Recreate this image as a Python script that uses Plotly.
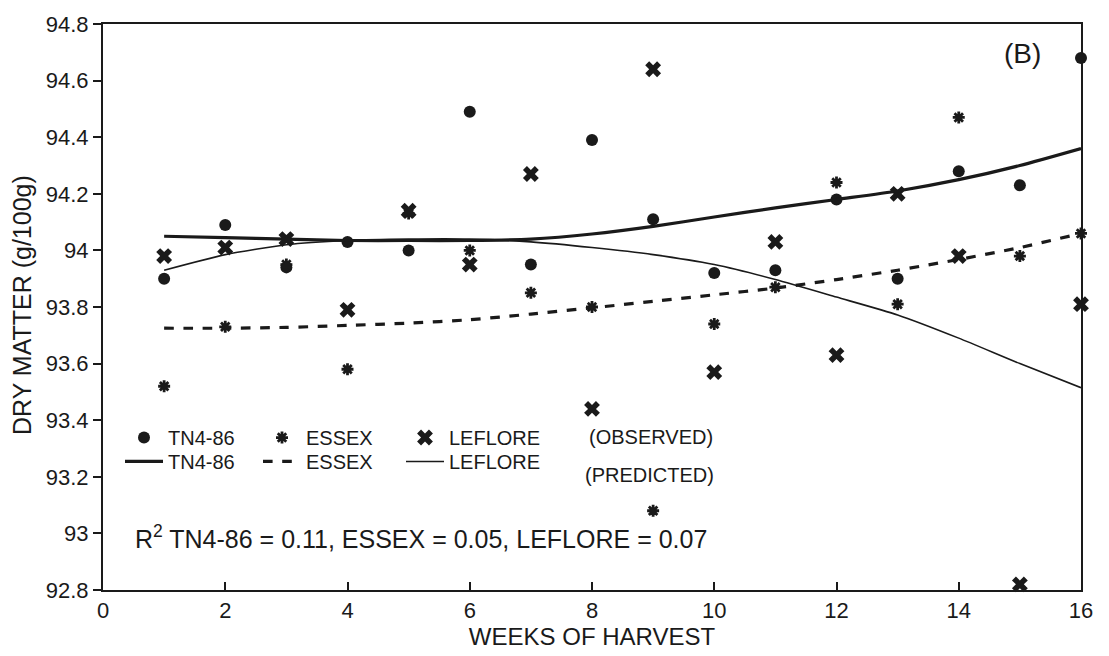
import plotly.graph_objects as go

weeks = list(range(1, 17))

tn4_obs = [93.90, 94.09, 93.94, 94.03, 94.00, 94.49, 93.95, 94.39,
           94.11, 93.92, 93.93, 94.18, 93.90, 94.28, 94.23, 94.68]
essex_obs = [93.52, 93.73, 93.95, 93.58, 94.13, 94.00, 93.85, 93.80,
             93.08, 93.74, 93.87, 94.24, 93.81, 94.47, 93.98, 94.06]
leflore_obs = [93.98, 94.01, 94.04, 93.79, 94.14, 93.95, 94.27, 93.44,
               94.64, 93.57, 94.03, 93.63, 94.20, 93.98, 92.82, 93.81]

tn4_pred = [94.05, 94.045, 94.04, 94.035, 94.035, 94.035, 94.04, 94.058,
            94.085, 94.118, 94.15, 94.18, 94.21, 94.25, 94.30, 94.36]
essex_pred = [93.725, 93.725, 93.728, 93.735, 93.743, 93.755, 93.775, 93.797,
              93.82, 93.843, 93.867, 93.897, 93.93, 93.968, 94.01, 94.06]
leflore_pred = [93.93, 93.985, 94.02, 94.035, 94.04, 94.04, 94.03, 94.01,
                93.985, 93.95, 93.897, 93.835, 93.772, 93.69, 93.60, 93.515]

x_tick_vals = [0, 2, 4, 6, 8, 10, 12, 14, 16]
y_tick_vals = [92.8, 93.0, 93.2, 93.4, 93.6, 93.8, 94.0, 94.2, 94.4, 94.6, 94.8]
y_tick_text = ["92.8", "93", "93.2", "93.4", "93.6", "93.8", "94", "94.2", "94.4", "94.6", "94.8"]

FONT = "Liberation Sans, Arial, sans-serif"
INK = "#1a1a1a"

L, R, T, B = 103, 28, 22, 66
W, H = 1109, 656
pw, ph = W - L - R, H - T - B

def px(xp):
    return (xp - L) / pw

def py(yp):
    return (H - B - yp) / ph

fig = go.Figure()

# observed
fig.add_trace(go.Scatter(x=weeks, y=tn4_obs, mode="markers", name="TN4-86", legend="legend",
                         marker=dict(symbol="circle", size=12, color=INK), cliponaxis=False))
fig.add_trace(go.Scatter(x=weeks, y=essex_obs, mode="markers", name="ESSEX", legend="legend2",
                         marker=dict(symbol="asterisk-open", size=10, color=INK,
                                     line=dict(width=2.8, color=INK)),
                         cliponaxis=False))
fig.add_trace(go.Scatter(x=weeks, y=leflore_obs, mode="markers", name="LEFLORE", legend="legend3",
                         marker=dict(symbol="x", size=14, color=INK), cliponaxis=False))
# predicted
fig.add_trace(go.Scatter(x=weeks, y=tn4_pred, mode="lines", name="TN4-86", legend="legend4",
                         line=dict(color=INK, width=3.2, shape="spline", smoothing=0.6)))
fig.add_trace(go.Scatter(x=weeks, y=essex_pred, mode="lines", name="ESSEX", legend="legend5",
                         line=dict(color=INK, width=3.2, dash="dash", shape="spline", smoothing=0.6)))
fig.add_trace(go.Scatter(x=weeks, y=leflore_pred, mode="lines", name="LEFLORE", legend="legend6",
                         line=dict(color=INK, width=1.6, shape="spline", smoothing=0.6)))

leg_common = dict(yanchor="middle", xanchor="left", bgcolor="rgba(0,0,0,0)",
                  font=dict(family=FONT, size=20, color=INK), tracegroupgap=0,
                  traceorder="normal", itemwidth=38)

col_x = [120, 258, 401]
row_y = [437, 461]

fig.update_layout(
    width=W, height=H,
    margin=dict(l=L, r=R, t=T, b=B),
    plot_bgcolor="white", paper_bgcolor="white",
    font=dict(family=FONT, color=INK),
    showlegend=True,
    legend=dict(x=px(col_x[0]), y=py(row_y[0]), **leg_common),
    legend2=dict(x=px(col_x[1]), y=py(row_y[0]), **leg_common),
    legend3=dict(x=px(col_x[2]), y=py(row_y[0]), **leg_common),
    legend4=dict(x=px(col_x[0]), y=py(row_y[1]), **leg_common),
    legend5=dict(x=px(col_x[1]), y=py(row_y[1]), **leg_common),
    legend6=dict(x=px(col_x[2]), y=py(row_y[1]), **leg_common),
    xaxis=dict(range=[0, 16], tickvals=x_tick_vals, ticks="inside", ticklen=8, tickwidth=2,
               tickcolor=INK, showline=True, linecolor=INK, linewidth=2, mirror=True,
               showgrid=False, zeroline=False, tickfont=dict(family=FONT, size=22, color=INK),
               title=dict(text="WEEKS OF HARVEST", font=dict(family=FONT, size=24, color=INK), standoff=2)),
    yaxis=dict(range=[92.8, 94.8], tickvals=y_tick_vals, ticktext=y_tick_text, ticks="outside",
               ticklen=8, tickwidth=2, tickcolor=INK, showline=True, linecolor=INK, linewidth=2,
               mirror=True, showgrid=False, zeroline=False,
               tickfont=dict(family=FONT, size=22, color=INK)),
)

fig.add_annotation(text="DRY MATTER (g/100g)", x=(22 - L) / pw, y=py(304), xref="paper", yref="paper",
                   xanchor="center", yanchor="middle",
                   showarrow=False, textangle=-90, font=dict(family=FONT, size=25, color=INK))
fig.add_annotation(text="(OBSERVED)", x=px(587), y=py(436), xref="paper", yref="paper",
                   xanchor="left", yanchor="middle", showarrow=False,
                   font=dict(family=FONT, size=20, color=INK))
fig.add_annotation(text="(PREDICTED)", x=px(583), y=py(475), xref="paper", yref="paper",
                   xanchor="left", yanchor="middle", showarrow=False,
                   font=dict(family=FONT, size=20, color=INK))
fig.add_annotation(text="R<sup>2</sup> TN4-86 = 0.11, ESSEX = 0.05, LEFLORE = 0.07",
                   x=px(133), y=py(537), xref="paper", yref="paper",
                   xanchor="left", yanchor="middle", showarrow=False,
                   font=dict(family=FONT, size=25, color=INK))
fig.add_annotation(text="(B)", x=px(1022), y=py(52), xref="paper", yref="paper",
                   xanchor="center", yanchor="middle", showarrow=False,
                   font=dict(family=FONT, size=28, color=INK))

fig.write_html("out.html")
